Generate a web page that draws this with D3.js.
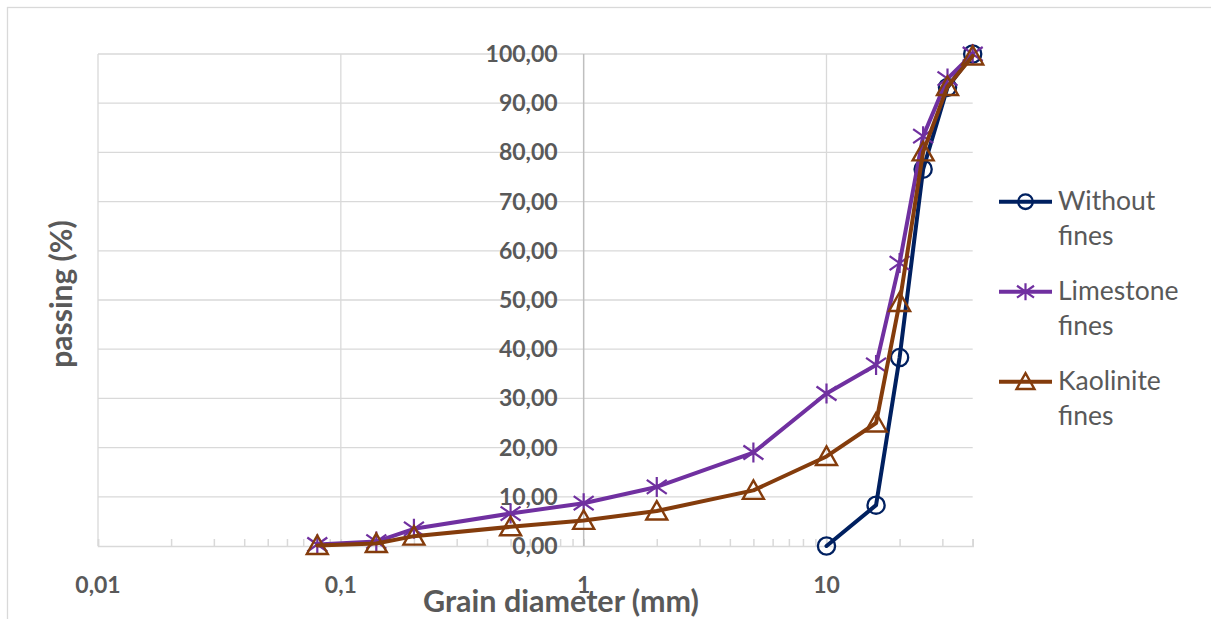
<!DOCTYPE html>
<html>
<head>
<meta charset="utf-8">
<script src="https://cdn.jsdelivr.net/npm/d3@7"></script>
<style>
  html, body { margin: 0; padding: 0; background: #fff; }
  svg { display: block; }
</style>
</head>
<body>
<svg id="chart" width="1211" height="619"></svg>
<script>
// Grain size distribution curves (sieve size in mm, passing in %)
const seriesNames = ["Without fines", "Limestone fines", "Kaolinite fines"];

const withoutSizes   = [10, 16, 20, 25, 31.5, 40];
const withoutPassing = [0.0, 8.3, 38.3, 76.6, 93.2, 100.0];

const limestoneSizes   = [0.08, 0.14, 0.2, 0.5, 1, 2, 5, 10, 16, 20, 25, 31.5, 40];
const limestonePassing = [0.3, 0.9, 3.5, 6.6, 8.7, 12.0, 19.0, 31.0, 36.8, 57.5, 83.3, 95.0, 100.0];

const kaoliniteSizes   = [0.08, 0.14, 0.2, 0.5, 1, 2, 5, 10, 16, 20, 25, 31.5, 40];
const kaolinitePassing = [0.1, 0.5, 2.0, 3.9, 5.2, 7.1, 11.3, 18.2, 25.0, 49.5, 80.1, 93.4, 99.6];

const xMajorTicks = [0.01, 0.1, 1, 10];
const yTicks = [0, 10, 20, 30, 40, 50, 60, 70, 80, 90, 100];

const colors = ["#002060", "#7030A0", "#843C0C"];
const markers = ["circle", "star", "triangle"];

const svg = d3.select("#chart");
const textColor = "#595959";
const gridColor = "#d9d9d9";

const locale = d3.formatLocale({ decimal: ",", thousands: ".", grouping: [3], currency: ["", ""] });
const fmtY = locale.format(".2f");
const fmtX = locale.format("~g");

const x = d3.scaleLog().domain([0.01, 40]).range([98, 972.7]);
const y = d3.scaleLinear().domain([0, 100]).range([546, 54]);

// outer chart frame
svg.append("rect")
  .attr("x", 7.5).attr("y", 7.5)
  .attr("width", 1300).attr("height", 700)
  .attr("fill", "#fff").attr("stroke", gridColor).attr("stroke-width", 1.3);

// horizontal gridlines
svg.append("g").selectAll("line").data(yTicks.filter(d => d > 0)).join("line")
  .attr("x1", x(0.01)).attr("x2", x(40))
  .attr("y1", d => y(d)).attr("y2", d => y(d))
  .attr("stroke", gridColor).attr("stroke-width", 1.3);

// vertical gridlines at decades
svg.append("g").selectAll("line").data(xMajorTicks.filter(d => d !== 1)).join("line")
  .attr("x1", d => x(d)).attr("x2", d => x(d))
  .attr("y1", y(100)).attr("y2", y(0))
  .attr("stroke", gridColor).attr("stroke-width", 1.3);

// x axis with inside minor ticks
const minorTicks = [];
for (const dec of [0.01, 0.1, 1, 10]) {
  for (let m = 1; m <= 9; m++) {
    const v = +(dec * m).toPrecision(3);
    if (v <= 40) minorTicks.push(v);
  }
}
minorTicks.push(40);
const xAxis = d3.axisBottom(x).tickValues(minorTicks).tickSize(-7).tickFormat("");
const gx = svg.append("g").attr("transform", `translate(0,${y(0)})`).call(xAxis);
gx.select(".domain").attr("stroke", gridColor).attr("stroke-width", 1.5);
gx.selectAll(".tick line").attr("stroke", gridColor).attr("stroke-width", 1.5);

// vertical axis crossing at 1 mm
svg.append("line")
  .attr("x1", x(1)).attr("x2", x(1))
  .attr("y1", y(100)).attr("y2", y(0))
  .attr("stroke", "#bfbfbf").attr("stroke-width", 1.5);

// tick labels
const fontBold = "Lato, 'Open Sans', sans-serif";
svg.append("g").selectAll("text").data(yTicks).join("text")
  .attr("x", x(1) - 26).attr("y", d => y(d))
  .attr("dy", "0.35em")
  .attr("text-anchor", "end")
  .attr("font-family", fontBold).attr("font-weight", "bold")
  .attr("font-size", 23).attr("fill", textColor)
  .text(d => fmtY(d));

svg.append("g").selectAll("text").data(xMajorTicks).join("text")
  .attr("x", d => x(d)).attr("y", 585)
  .attr("dy", "0.35em")
  .attr("text-anchor", "middle")
  .attr("font-family", fontBold).attr("font-weight", "bold")
  .attr("font-size", 23).attr("fill", textColor)
  .text(d => fmtX(d));

// axis titles
svg.append("text")
  .attr("x", 561).attr("y", 601).attr("dy", "0.35em")
  .attr("text-anchor", "middle")
  .attr("font-family", fontBold).attr("font-weight", "bold")
  .attr("font-size", 30.5).attr("fill", textColor)
  .text("Grain diameter (mm)");

svg.append("text")
  .attr("transform", `translate(61,294) rotate(-90)`)
  .attr("dy", "0.35em")
  .attr("text-anchor", "middle")
  .attr("font-family", fontBold).attr("font-weight", "bold")
  .attr("font-size", 30).attr("fill", textColor)
  .text("passing (%)");

// marker drawing
function drawMarker(g, type, color, s) {
  if (type === "circle") {
    g.append("circle").attr("r", 8.6 * s)
      .attr("fill", "none").attr("stroke", color).attr("stroke-width", 2.3);
  } else if (type === "star") {
    const a = 10 * s, b = 7 * s;
    g.append("path")
      .attr("d", `M0,${-a}L0,${a}M${-a},${-b}L${a},${b}M${-a},${b}L${a},${-b}`)
      .attr("fill", "none").attr("stroke", color).attr("stroke-width", 2.2);
  } else {
    g.append("path")
      .attr("d", `M0,${-10 * s}L${10.5 * s},${8.5 * s}L${-10.5 * s},${8.5 * s}Z`)
      .attr("fill", "none").attr("stroke", color).attr("stroke-width", 2.4)
      .attr("stroke-linejoin", "miter");
  }
}

const series = [
  { sizes: withoutSizes, passing: withoutPassing },
  { sizes: limestoneSizes, passing: limestonePassing },
  { sizes: kaoliniteSizes, passing: kaolinitePassing }
];

const line = d3.line().x(d => x(d[0])).y(d => y(d[1]));

series.forEach((s, i) => {
  const pts = s.sizes.map((v, k) => [v, s.passing[k]]);
  const g = svg.append("g");
  g.append("path").datum(pts)
    .attr("d", line)
    .attr("fill", "none").attr("stroke", colors[i])
    .attr("stroke-width", 4).attr("stroke-linejoin", "round").attr("stroke-linecap", "round");
  pts.forEach(p => {
    const mg = g.append("g").attr("transform", `translate(${x(p[0])},${y(p[1])})`);
    drawMarker(mg, markers[i], colors[i], 1);
  });
});

// legend
const legend = svg.append("g");
seriesNames.forEach((name, i) => {
  const ly = 201.7 + i * 90;
  const lg = legend.append("g");
  lg.append("line")
    .attr("x1", 999).attr("x2", 1052).attr("y1", ly).attr("y2", ly)
    .attr("stroke", colors[i]).attr("stroke-width", 4);
  const mg = lg.append("g").attr("transform", `translate(1025.5,${ly})`);
  drawMarker(mg, markers[i], colors[i], 0.85);
  const words = name.split(" ");
  const t = lg.append("text")
    .attr("font-family", "Lato, 'Open Sans', sans-serif")
    .attr("font-size", 26.5).attr("fill", textColor);
  words.forEach((w, k) => {
    t.append("tspan").attr("x", 1058).attr("y", ly + 8.5 + k * 35).text(w);
  });
});
</script>
</body>
</html>
